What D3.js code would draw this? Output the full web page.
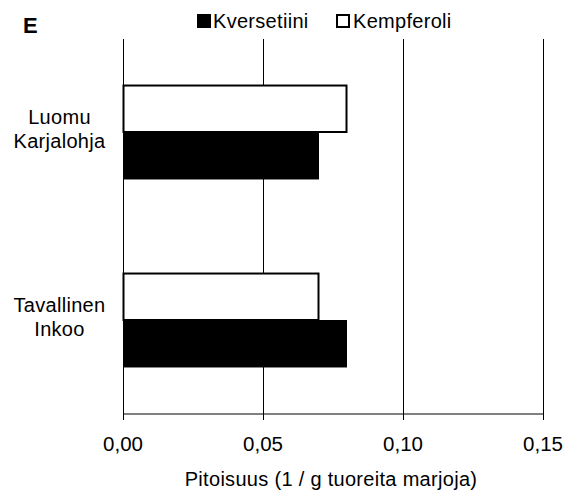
<!DOCTYPE html>
<html>
<head>
<meta charset="utf-8">
<script src="https://cdn.jsdelivr.net/npm/d3@7"></script>
<style>
  html, body { margin: 0; padding: 0; background: #fff; }
  svg { display: block; font-family: "Liberation Sans", Arial, sans-serif; }
</style>
</head>
<body>
<script>
// ---- data ----
const categories = ["Luomu Karjalohja", "Tavallinen Inkoo"];
const categoryLines = [["Luomu", "Karjalohja"], ["Tavallinen", "Inkoo"]];
const seriesNames = ["Kversetiini", "Kempferoli"];
const kversetiini = [0.07, 0.08];
const kempferoli = [0.08, 0.07];
const xTicks = [0, 0.05, 0.10, 0.15];
const xTickLabels = ["0,00", "0,05", "0,10", "0,15"];
const panelLabel = "E";
const xTitle = "Pitoisuus (1 / g tuoreita marjoja)";

const W = 567, H = 493;
const svg = d3.select("body").append("svg").attr("width", W).attr("height", H);

const x = d3.scaleLinear().domain([0, 0.15]).range([123, 543]);
const y = d3.scaleBand().domain(categories).range([38, 414])
  .paddingInner(0.495).paddingOuter(0.2475);
// within each category: Kempferoli on top, Kversetiini below
const ySub = d3.scaleBand().domain(["Kempferoli", "Kversetiini"]).range([0, y.bandwidth()]);

const plotTop = 39, axisY = 414;

// axis line (grey)
svg.append("line").attr("x1", x(0)).attr("x2", x(0.15))
  .attr("y1", axisY).attr("y2", axisY)
  .attr("stroke", "#808080").attr("stroke-width", 2);

// gridlines + ticks
svg.append("g").selectAll("line").data(xTicks).join("line")
  .attr("x1", d => Math.round(x(d)) + 0.5).attr("x2", d => Math.round(x(d)) + 0.5)
  .attr("y1", plotTop).attr("y2", 420)
  .attr("stroke", "#000").attr("stroke-width", 1);

// tick labels
svg.append("g").selectAll("text").data(xTicks).join("text")
  .attr("x", d => x(d)).attr("y", 451)
  .attr("text-anchor", "middle").attr("font-size", 20.5)
  .attr("fill", "#000")
  .text((d, i) => xTickLabels[i]);

// bars
const rows = categories.map((c, i) => ({ c, kv: kversetiini[i], ke: kempferoli[i] }));
const g = svg.append("g");
g.selectAll("rect.kv").data(rows).join("rect").attr("class", "kv")
  .attr("x", x(0)).attr("width", d => x(d.kv) - x(0))
  .attr("y", d => y(d.c) + ySub("Kversetiini")).attr("height", ySub.bandwidth())
  .attr("fill", "#000");
g.selectAll("rect.ke").data(rows).join("rect").attr("class", "ke")
  .attr("x", x(0) + 0.5).attr("width", d => x(d.ke) - x(0) - 1)
  .attr("y", d => y(d.c) + ySub("Kempferoli") + 1).attr("height", ySub.bandwidth() - 1)
  .attr("fill", "#fff").attr("stroke", "#000").attr("stroke-width", 2);

// category labels
const cl = svg.append("g");
categories.forEach((c, i) => {
  const cy = y(c) + y.bandwidth() / 2;
  const t = cl.append("text").attr("text-anchor", "middle").attr("font-size", 20)
    .attr("letter-spacing", 0.3).attr("fill", "#000");
  categoryLines[i].forEach((ln, j) => {
    t.append("tspan").attr("x", 59.5).attr("y", cy - 8.5 + j * 24).text(ln);
  });
});

// axis title
svg.append("text").attr("x", (x(0) + x(0.15)) / 2 - 2).attr("y", 486)
  .attr("text-anchor", "middle").attr("font-size", 20).attr("letter-spacing", 0.3)
  .attr("fill", "#000").text(xTitle);

// panel label
svg.append("text").attr("x", 23).attr("y", 32.5).attr("font-size", 22)
  .attr("font-weight", "bold").attr("fill", "#000").text(panelLabel);

// legend
const leg = svg.append("g");
const legItems = [
  { name: seriesNames[0], fill: "#000", sx: 197, tx: 213 },
  { name: seriesNames[1], fill: "#fff", sx: 336, tx: 353 }
];
legItems.forEach(it => {
  leg.append("rect").attr("x", it.sx + 1).attr("y", 15).attr("width", 12).attr("height", 12)
    .attr("fill", it.fill).attr("stroke", "#000").attr("stroke-width", 2);
  leg.append("text").attr("x", it.tx).attr("y", 27.5).attr("font-size", 20)
    .attr("letter-spacing", 0.3).attr("fill", "#000").text(it.name);
});
</script>
</body>
</html>
